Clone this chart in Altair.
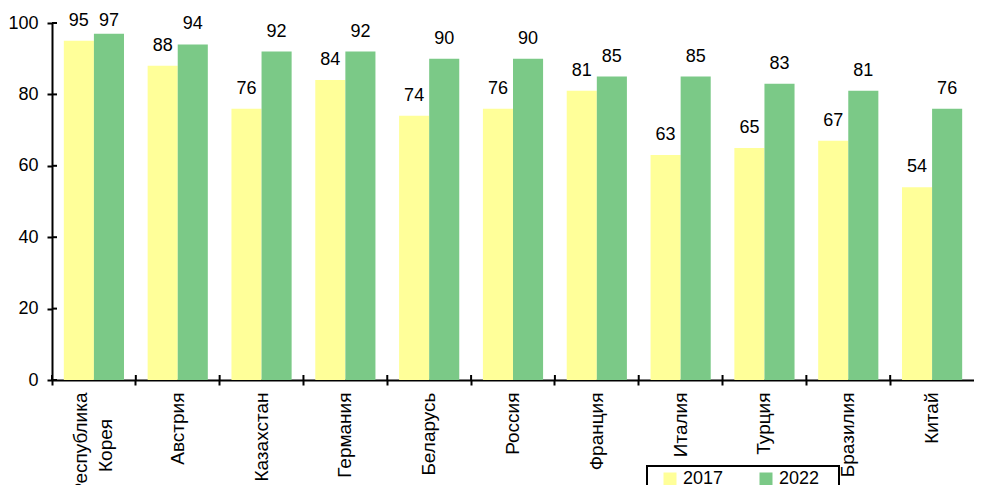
import altair as alt
import pandas as pd

countries = ["Республика Корея", "Австрия", "Казахстан", "Германия", "Беларусь",
             "Россия", "Франция", "Италия", "Турция", "Бразилия", "Китай"]
v2017 = [95, 88, 76, 84, 74, 76, 81, 63, 65, 67, 54]
v2022 = [97, 94, 92, 92, 90, 90, 85, 85, 83, 81, 76]
years = ["2017", "2022"]
colors = ["#FFFF99", "#7BC987"]
y_ticks = [0, 20, 40, 60, 80, 100]

rows = []
for c, a, b in zip(countries, v2017, v2022):
    rows.append({"country": c, "year": "2017", "value": a})
    rows.append({"country": c, "year": "2022", "value": b})
df = pd.DataFrame(rows)
df_ticks = pd.DataFrame({"t": y_ticks})
df_cat = pd.DataFrame({"country": countries})

W = 922
H = 357
FONT = "Liberation Sans"
FS = 18
FSX = 19

nb = "\u00a0"
zw = "\u200b"
label_expr = ("datum.label == 'Республика Корея' ? ['Республика', 'Корея"
              + nb * 5 + zw + "'] : datum.label")
legend_expr = "datum.label == '2022' ? '2022" + nb * 3 + zw + "' : datum.label"

x_scale = alt.Scale(domain=countries, paddingInner=0, paddingOuter=0)
y_scale = alt.Scale(domain=[0, 100], nice=False)

x_enc = alt.X("country:N", sort=countries, scale=x_scale,
              axis=alt.Axis(title=None, labelAngle=-90, labelAlign="right",
                            labelBaseline="middle", labelFontSize=FSX, labelFont=FONT,
                            labelColor="black", labelPadding=7, labelLineHeight=25,
                            labelExpr=label_expr, bandPosition=0, tickSize=5,
                            labelOffset=alt.condition("datum.value == 'Республика Корея'",
                                                      alt.value(-12.5), alt.value(0)),
                            tickWidth=2, tickColor="black", domainColor="black",
                            domainWidth=2))
xoff = alt.XOffset("year:N", sort=years,
                   scale=alt.Scale(domain=years, paddingInner=0, paddingOuter=0.393))
y_enc = alt.Y("value:Q", scale=y_scale,
              axis=alt.Axis(title=None, values=y_ticks, grid=False, tickSize=5,
                            tickWidth=2, tickColor="black", domainColor="black",
                            domainWidth=2, labelFontSize=FS, labelFont=FONT,
                            labelColor="black", labelPadding=9))

bars = alt.Chart(df).mark_bar().encode(
    x=x_enc, xOffset=xoff, y=y_enc,
    color=alt.Color("year:N", sort=years,
                    scale=alt.Scale(domain=years, range=colors),
                    legend=alt.Legend(title=nb, titleOrient="left", titlePadding=10,
                                      titleFontSize=FS, titleFont=FONT,
                                      orient="none", legendX=595, legendY=443,
                                      direction="horizontal", strokeColor="black",
                                      padding=4, symbolType="square", symbolSize=169,
                                      symbolStrokeWidth=0, labelFontSize=FS,
                                      labelFont=FONT, labelColor="black",
                                      labelExpr=legend_expr,
                                      columnPadding=33, labelOffset=4))
)

texts = alt.Chart(df).transform_calculate(
    ylab="min(datum.value, 95)"
).mark_text(baseline="alphabetic", dy=-15, fontSize=FS,
            font=FONT, color="black").encode(
    x=alt.X("country:N", sort=countries, scale=x_scale),
    xOffset=xoff,
    y=alt.Y("ylab:Q", scale=y_scale),
    text=alt.Text("value:Q")
)

ytick_in = alt.Chart(df_ticks).mark_rule(color="black", strokeWidth=2).encode(
    y=alt.Y("t:Q", scale=y_scale),
    x=alt.value(0), x2=alt.value(5)
)

xtick_in = alt.Chart(df_cat).mark_rule(color="black", strokeWidth=2).encode(
    x=alt.X("country:N", sort=countries, scale=x_scale, bandPosition=0),
    y=alt.value(H - 5), y2=alt.value(H)
)

chart = alt.layer(bars, texts, ytick_in, xtick_in).properties(
    width=W, height=H,
    autosize=alt.AutoSizeParams(type="none"),
    padding={"left": 44, "top": 15, "right": 0, "bottom": 105}
).configure_view(stroke=None).configure_legend(strokeWidth=2)

chart.save("out.html", embed_options={"renderer": "svg", "actions": False})
